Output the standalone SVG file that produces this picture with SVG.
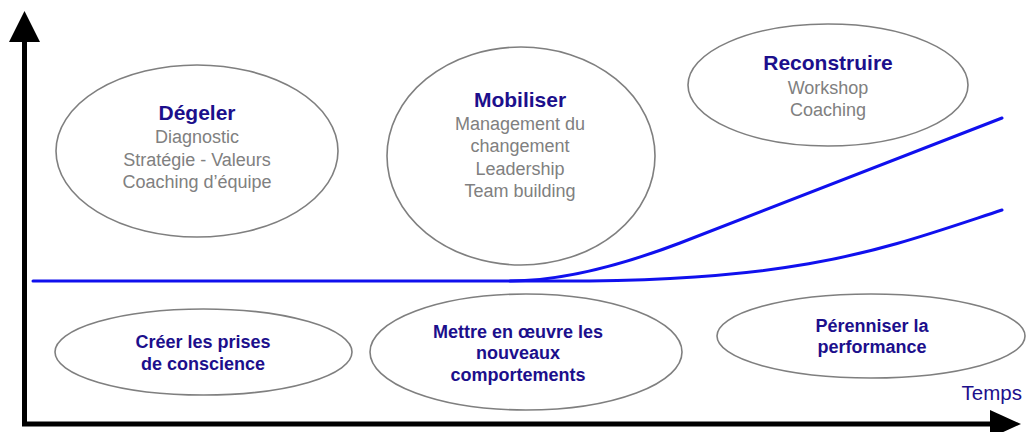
<svg xmlns="http://www.w3.org/2000/svg" width="1035" height="432" viewBox="0 0 1035 432">
  <style>
    .bubble { fill: #ffffff; stroke: #7f7f7f; stroke-width: 1.6; }
    .title { font-family: "Liberation Sans", Arial, sans-serif; font-weight: bold; font-size: 21px; fill: #1c0f8c; text-anchor: middle; }
    .item { font-family: "Liberation Sans", Arial, sans-serif; font-size: 18px; fill: #808080; text-anchor: middle; }
    .goal { font-family: "Liberation Sans", Arial, sans-serif; font-weight: bold; font-size: 18px; fill: #1c0f8c; text-anchor: middle; }
    .axis { stroke: #000000; stroke-width: 5; fill: none; }
    .curve { stroke: #1010ee; stroke-width: 3; fill: none; stroke-linecap: round; }
  </style>

  <!-- axes -->
  <g id="axes">
    <line class="axis" x1="24.5" y1="40" x2="24.5" y2="426"/>
    <polygon points="24.5,11 40,42 9,42" fill="#000000"/>
    <line class="axis" x1="22" y1="424" x2="992" y2="424"/>
    <polygon points="1021,424 990,410 990,438" fill="#000000"/>
    <text x="1022" y="400" text-anchor="end" font-family="Liberation Sans, Arial, sans-serif" font-size="20.5px" fill="#1c0f8c">Temps</text>
  </g>

  <!-- performance curves -->
  <g id="connectors">
    <path class="curve" d="M33,281 L510,281 Q580,281 680,243 L1002,118"/>
    <path class="curve" d="M510,281 L540,281 C800,283 880,250 1002,210"/>
  </g>

  <!-- phase bubbles -->
  <g id="degeler">
    <ellipse class="bubble" cx="197" cy="151" rx="141" ry="86"/>
    <text class="title" x="197" y="120">Dégeler</text>
    <text class="item" x="197" y="143">Diagnostic</text>
    <text class="item" x="197" y="166">Stratégie - Valeurs</text>
    <text class="item" x="197" y="188">Coaching d’équipe</text>
  </g>

  <g id="mobiliser">
    <ellipse class="bubble" cx="521" cy="156" rx="134" ry="109"/>
    <text class="title" x="520" y="107">Mobiliser</text>
    <text class="item" x="520" y="130">Management du</text>
    <text class="item" x="520" y="152">changement</text>
    <text class="item" x="520" y="175">Leadership</text>
    <text class="item" x="520" y="197">Team building</text>
  </g>

  <g id="reconstruire">
    <ellipse class="bubble" cx="828" cy="85" rx="140" ry="61"/>
    <text class="title" x="828" y="70">Reconstruire</text>
    <text class="item" x="828" y="94">Workshop</text>
    <text class="item" x="828" y="116">Coaching</text>
  </g>

  <!-- goal bubbles -->
  <g id="creer">
    <ellipse class="bubble" cx="203.5" cy="352" rx="148.5" ry="43"/>
    <text class="goal" x="203" y="348">Créer les prises</text>
    <text class="goal" x="203" y="370">de conscience</text>
  </g>

  <g id="mettre">
    <ellipse class="bubble" cx="526" cy="352" rx="156" ry="58"/>
    <text class="goal" x="518" y="338">Mettre en œuvre les</text>
    <text class="goal" x="518" y="359">nouveaux</text>
    <text class="goal" x="518" y="381">comportements</text>
  </g>

  <g id="perenniser">
    <ellipse class="bubble" cx="871" cy="336" rx="154" ry="42"/>
    <text class="goal" x="872" y="332">Pérenniser la</text>
    <text class="goal" x="872" y="353">performance</text>
  </g>
</svg>
